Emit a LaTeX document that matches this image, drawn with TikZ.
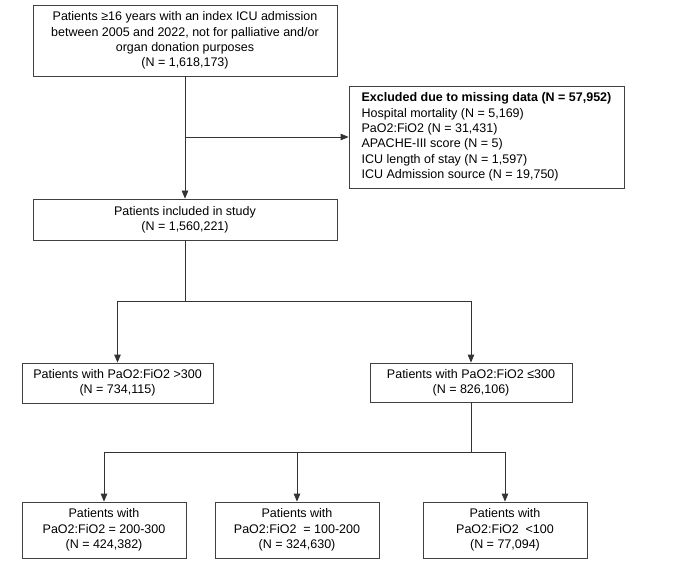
\documentclass[tikz,border=0pt]{standalone}
\usepackage{fontspec}
\setmainfont{Liberation Sans}
\usetikzlibrary{arrows.meta}
\begin{document}
\begin{tikzpicture}[x=1pt,y=-1pt,
  box/.style={draw=black!75, line width=0.8pt, fill=white, align=center, inner sep=2pt,
    font=\fontsize{12.5}{15.3}\selectfont, text=black},
  arr/.style={draw=black!80, line width=0.8pt, -{Triangle[length=8pt,width=6.5pt]}},
  ln/.style={draw=black!80, line width=0.8pt}]
\useasboundingbox[fill=white] (0,0) rectangle (680,585);
\node[box, minimum width=304pt, minimum height=71pt] (start) at (185,40.5)
  {Patients ≥16 years with an index ICU admission\\between 2005 and 2022, not for palliative and/or\\organ donation purposes\\(N = 1,618,173)};
\node[box, minimum width=304pt, minimum height=41pt] (incl) at (185,219.5)
  {Patients included in study\\(N = 1,560,221)};
\node[box, align=left, minimum width=275pt, minimum height=102pt] (excl) at (486.5,137)
  {\textbf{Excluded due to missing data (N = 57,952)}\\Hospital mortality (N = 5,169)\\PaO2:FiO2 (N = 31,431)\\APACHE-III score (N = 5)\\ICU length of stay (N = 1,597)\\ICU Admission source (N = 19,750)};
\node[box, minimum width=191pt, minimum height=40pt] (gt) at (117.5,383)
  {Patients with PaO2:FiO2 >300\\(N = 734,115)};
\node[box, minimum width=202pt, minimum height=39pt] (le) at (471,382.5)
  {Patients with PaO2:FiO2 ≤300\\(N = 826,106)};
\node[box, minimum width=164pt, minimum height=56pt] (pa) at (104,530)
  {Patients with\\PaO2:FiO2 = 200-300\\(N = 424,382)};
\node[box, minimum width=164pt, minimum height=56pt] (pb) at (297,530)
  {Patients with\\PaO2:FiO2\ \ = 100-200\\(N = 324,630)};
\node[box, minimum width=164pt, minimum height=56pt] (pc) at (505,530)
  {Patients with\\PaO2:FiO2\ \ <100\\(N = 77,094)};
\coordinate (j1) at (185,137);
\coordinate (b1) at (185,301);
\coordinate (b2) at (471,452);
\draw[arr] (start.south) -- (incl.north);
\draw[arr] (j1) -- (excl.west);
\draw[ln] (incl.south) -- (b1);
\draw[arr] (b1) -| (gt.north);
\draw[arr] (b1) -| (le.north);
\draw[ln] (le.south) -- (b2);
\draw[arr] (b2) -| (pa.north);
\draw[arr] (b2) -| (pb.north);
\draw[arr] (b2) -| (pc.north);
\end{tikzpicture}
\end{document}
